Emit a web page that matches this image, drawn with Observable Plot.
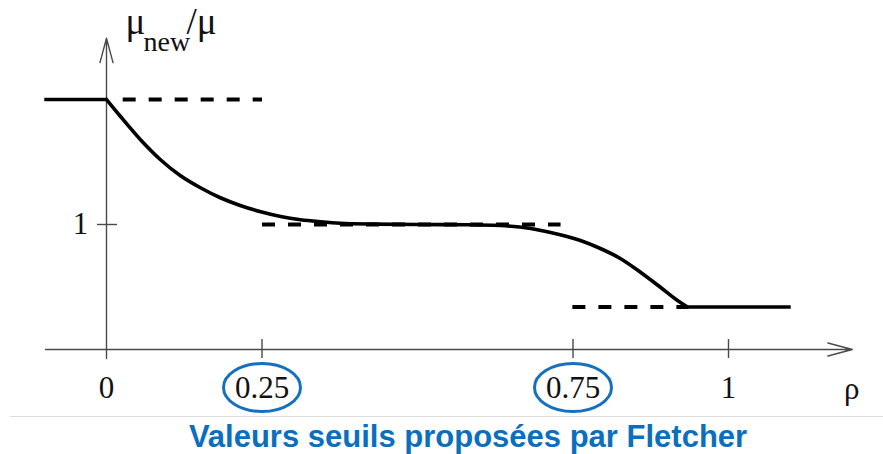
<!DOCTYPE html>
<html><head><meta charset="utf-8">
<script src="https://cdn.jsdelivr.net/npm/d3@7"></script>
<script src="https://cdn.jsdelivr.net/npm/@observablehq/plot@0.6"></script>
<style>
body{margin:0;background:#fff;}
#sep{margin-left:10px;border-top:1.5px solid #dcdcdc;width:873px;height:0}
#cap{font-family:"Liberation Sans",Arial,sans-serif;font-weight:bold;color:#0a6fbe;font-size:31px;text-align:center;padding-left:53px;padding-top:3px;line-height:34px;width:830px;white-space:nowrap;}
</style></head><body>
<div id="chart"></div><div id="sep"></div><div id="cap">Valeurs seuils proposées par Fletcher</div>
<script>
// Curve: mu_new/mu as a function of rho
const curveRho = [0, 0.0225, 0.0547, 0.0868, 0.119, 0.151, 0.183, 0.215, 0.248, 0.280, 0.312, 0.344, 0.376, 0.43, 0.5, 0.58, 0.633, 0.682, 0.714, 0.762, 0.794, 0.826, 0.859, 0.891, 0.918, 0.934];
const curveMu  = [2, 1.864, 1.678, 1.518, 1.390, 1.294, 1.214, 1.152, 1.102, 1.064, 1.038, 1.022, 1.010, 1.003, 1.0, 0.998, 0.992, 0.968, 0.936, 0.872, 0.808, 0.728, 0.616, 0.496, 0.392, 0.34];
// Plateaus (solid)
const plateauRho1 = [-0.1, 0.934];
const plateauRho2 = [0, 1.1];
const plateauMu   = [2, 0.34];
// Threshold dashed levels
const dashRho1 = [0.026, 0.25, 0.749];
const dashRho2 = [0.25, 0.73, 0.934];
const dashMu   = [2, 1, 0.34];
// Ticks
const xTickValues = [0, 0.25, 0.75, 1];
const xTickLabels = ["0", "0.25", "0.75", "1"];
const xTickMarks = [0.25, 0.75, 1];
const circled = [0.25, 0.75];
const yTickValues = [1];
const yTickLabels = ["1"];
const xAxisLabel = "ρ";
const caption = "Valeurs seuils proposées par Fletcher";

const axes = [
  {x1: -0.098, y1: 0, x2: 1.199, y2: 0},
  {x1: 0, y1: -0.072, x2: 0, y2: 2.49}
];
const curve = curveRho.map((r, i) => ({rho: r, mu: curveMu[i]}));
const plateaus = plateauMu.map((m, i) => ({r1: plateauRho1[i], r2: plateauRho2[i], mu: m}));
const dashes = dashMu.map((m, i) => ({r1: dashRho1[i], r2: dashRho2[i], mu: m}));

const ellipse = {draw(ctx) {
  const rx = 38.5, ry = 24, k = 0.5523;
  ctx.moveTo(rx, 0);
  ctx.bezierCurveTo(rx, ry*k, rx*k, ry, 0, ry);
  ctx.bezierCurveTo(-rx*k, ry, -rx, ry*k, -rx, 0);
  ctx.bezierCurveTo(-rx, -ry*k, -rx*k, -ry, 0, -ry);
  ctx.bezierCurveTo(rx*k, -ry, rx, -ry*k, rx, 0);
  ctx.closePath();
}};

const serif = "'Liberation Serif', 'Times New Roman', serif";
const axisColor = "#4a4a4a";

const chart = Plot.plot({
  width: 883,
  height: 416,
  marginLeft: 106,
  marginRight: 155,
  marginTop: 99,
  marginBottom: 67,
  x: {domain: [0, 1], axis: null},
  y: {domain: [0, 2], axis: null},
  style: {background: "white"},
  marks: [
    Plot.arrow(axes, {x1: "x1", y1: "y1", x2: "x2", y2: "y2", stroke: axisColor, strokeWidth: 1.4, headLength: 27, headAngle: 30}),
    Plot.ruleX(xTickMarks, {x: d => d, y1: -0.072, y2: 0.08, stroke: axisColor, strokeWidth: 1.4}),
    Plot.ruleY(yTickValues, {y: d => d, x1: -0.0145, x2: 0.0177, stroke: axisColor, strokeWidth: 1.4}),
    Plot.link(dashes, {x1: "r1", x2: "r2", y1: "mu", y2: "mu", stroke: "#000", strokeWidth: 4, strokeDasharray: "13,13", strokeLinecap: "butt"}),
    Plot.link(plateaus, {x1: "r1", x2: "r2", y1: "mu", y2: "mu", stroke: "#000", strokeWidth: 3.6, strokeLinecap: "butt"}),
    Plot.line(curve, {x: "rho", y: "mu", stroke: "#000", strokeWidth: 3.6, curve: "monotone-x", strokeLinejoin: "round"}),
    Plot.dot(circled, {x: d => d, y: 0, dy: 38, symbol: ellipse, r: 10, stroke: "#1670c0", strokeWidth: 3, fill: "none"}),
    Plot.text(xTickValues, {x: d => d, y: 0, dy: 39, text: (d, i) => xTickLabels[i], fontFamily: serif, fontSize: 31, fill: "#111"}),
    Plot.text([xAxisLabel], {x: 1.198, y: 0, dy: 40, text: d => d, fontFamily: serif, fontSize: 31, fill: "#111"}),
    Plot.text(yTickValues, {x: 0, y: d => d, dx: -26, text: (d, i) => yTickLabels[i], fontFamily: serif, fontSize: 31, fill: "#111"}),
    Plot.text(["μ"], {frameAnchor: "top-left", dx: 19, dy: -66, text: d => d, textAnchor: "start", lineAnchor: "bottom", fontFamily: serif, fontSize: 37, fill: "#111"}),
    Plot.text(["new"], {frameAnchor: "top-left", dx: 37, dy: -49, text: d => d, textAnchor: "start", lineAnchor: "bottom", fontFamily: serif, fontSize: 28, fill: "#111"}),
    Plot.text(["/μ"], {frameAnchor: "top-left", dx: 80, dy: -66, text: d => d, textAnchor: "start", lineAnchor: "bottom", fontFamily: serif, fontSize: 37, fill: "#111"})
  ]
});
document.getElementById("chart").appendChild(chart);
document.getElementById("cap").textContent = caption;
</script>
</body></html>
